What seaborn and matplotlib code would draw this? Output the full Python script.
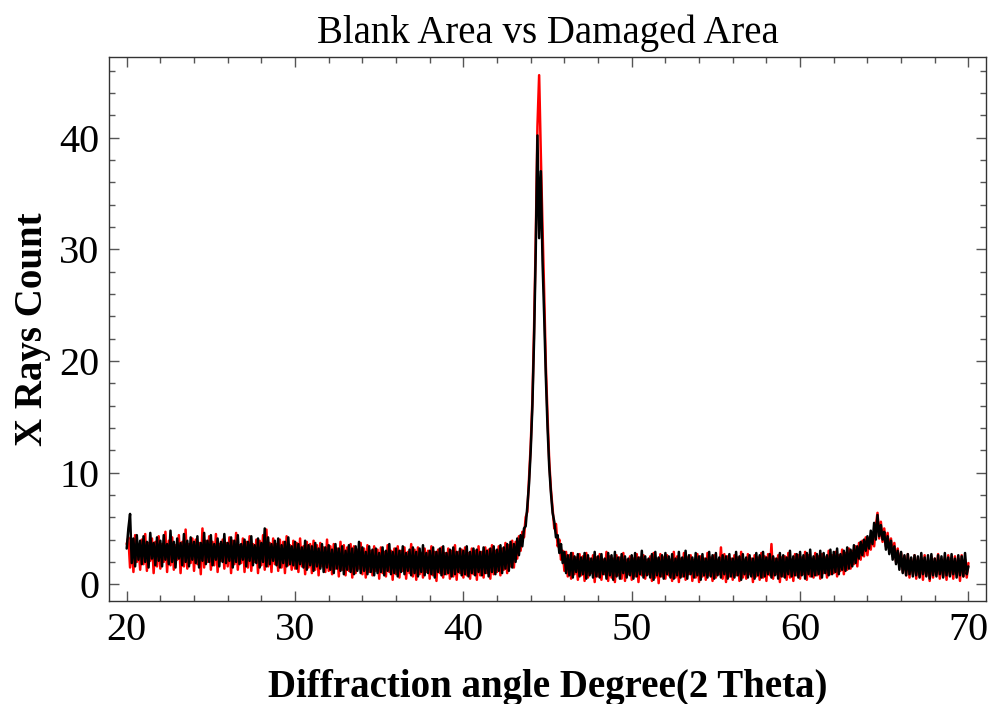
import numpy as np
import pandas as pd
import matplotlib.pyplot as plt
import seaborn as sns
from matplotlib.ticker import MultipleLocator

# --- DATA (2 theta from 20 to 70 deg, 0.1 deg steps, one row per degree) ---
angle = np.round(np.linspace(20, 70, 501), 1)

blank_counts = [
    3.6, 4.2, 1.5, 3.9, 1.1, 4.4, 2.0, 3.5, 1.3, 4.0,
    1.8, 4.5, 1.2, 3.7, 2.1, 4.1, 1.0, 3.8, 1.6, 4.3,
    1.4, 3.6, 2.0, 4.7, 1.1, 3.9, 1.7, 4.2, 1.3, 3.5,
    2.2, 4.4, 1.0, 3.8, 1.6, 4.9, 1.4, 3.6, 1.9, 4.1,
    1.2, 4.0, 1.8, 3.7, 0.9, 5.0, 1.5, 3.9, 2.0, 4.3,
    1.3, 3.8, 1.7, 4.5, 1.1, 3.6, 2.1, 4.0, 1.4, 3.7,
    1.6, 4.2, 1.0, 3.9, 1.8, 4.6, 1.3, 3.5, 1.9, 4.1,
    1.1, 3.8, 1.5, 4.3, 1.2, 3.6, 2.0, 4.0, 1.0, 3.9,
    1.7, 4.4, 1.3, 4.9, 1.6, 3.7, 1.1, 4.1, 1.8, 3.6,
    1.2, 4.0, 1.5, 3.8, 1.0, 4.3, 1.7, 3.5, 1.3, 3.9,
    1.4, 3.7, 1.1, 4.1, 1.6, 3.4, 0.9, 3.8, 1.5, 3.6,
    1.0, 3.9, 1.3, 3.5, 0.8, 3.7, 1.6, 3.3, 1.1, 4.0,
    1.2, 3.4, 0.9, 3.6, 1.4, 3.2, 0.7, 3.8, 1.3, 3.5,
    0.8, 3.3, 1.2, 3.6, 0.6, 3.4, 1.0, 3.1, 1.4, 3.7,
    0.9, 3.2, 0.6, 3.5, 1.1, 3.0, 0.8, 3.4, 1.2, 3.1,
    0.5, 3.3, 1.0, 2.9, 0.7, 3.5, 1.1, 3.0, 0.4, 3.2,
    0.9, 3.4, 0.6, 3.0, 1.2, 3.3, 0.5, 2.9, 1.0, 3.6,
    0.7, 3.1, 0.4, 3.3, 0.9, 2.8, 0.6, 3.2, 1.1, 3.0,
    0.5, 3.4, 0.8, 2.9, 0.3, 3.1, 1.0, 3.3, 0.6, 2.8,
    0.9, 3.2, 0.5, 3.0, 0.7, 3.5, 0.4, 2.9, 1.0, 3.1,
    0.6, 3.3, 0.8, 2.8, 0.5, 3.2, 0.9, 3.0, 0.4, 3.4,
    0.8, 2.9, 0.6, 3.3, 1.0, 3.1, 0.5, 3.5, 0.9, 3.0,
    1.1, 3.4, 0.8, 3.2, 1.3, 3.7, 1.0, 3.5, 1.6, 3.9,
    1.5, 3.8, 2.3, 4.3, 3.0, 4.7, 4.2, 6.0, 6.5, 9.5,
    12.5, 16.5, 23.0, 31.0, 41.0, 45.6, 38.5, 32.0, 26.0, 19.5,
    15.0, 11.0, 8.5, 6.8, 5.0, 5.4, 3.4, 4.0, 2.2, 3.0,
    1.2, 2.9, 0.7, 2.6, 0.5, 2.8, 0.9, 2.4, 0.4, 2.7,
    0.8, 2.5, 0.3, 2.8, 0.6, 2.3, 1.0, 2.6, 0.2, 2.4,
    0.7, 2.7, 0.4, 2.2, 0.9, 2.9, 0.3, 2.5, 0.6, 2.3,
    0.2, 2.6, 0.8, 2.4, 0.5, 2.8, 0.3, 2.2, 0.9, 2.5,
    0.4, 2.3, 0.7, 2.7, 0.2, 2.4, 0.8, 2.6, 0.5, 2.2,
    0.9, 2.5, 0.3, 2.8, 0.6, 2.3, 0.1, 2.7, 0.7, 2.4,
    0.5, 2.6, 0.8, 2.2, 0.3, 2.9, 0.6, 2.5, 0.2, 2.3,
    0.7, 2.8, 0.4, 2.4, 0.9, 2.6, 0.3, 2.2, 0.6, 2.7,
    0.2, 2.5, 0.7, 2.3, 0.4, 2.8, 0.8, 2.4, 0.3, 2.6,
    0.6, 2.2, 0.9, 3.3, 0.5, 2.7, 0.2, 2.5, 0.7, 2.3,
    0.4, 2.6, 0.8, 2.4, 0.3, 2.9, 0.6, 2.2, 0.5, 2.7,
    0.9, 2.3, 0.2, 2.6, 0.7, 2.4, 0.4, 2.8, 0.6, 2.5,
    0.3, 2.7, 0.8, 3.6, 0.5, 2.3, 0.9, 2.6, 0.2, 2.4,
    0.7, 2.5, 0.4, 2.8, 0.6, 2.2, 0.3, 2.7, 0.8, 2.6,
    0.5, 2.4, 0.9, 2.9, 0.4, 2.6, 0.7, 2.3, 0.6, 2.8,
    0.8, 2.5, 0.5, 2.7, 1.0, 2.4, 0.6, 3.0, 0.9, 2.6,
    1.0, 2.9, 0.7, 2.6, 1.2, 3.1, 0.9, 2.8, 1.3, 3.2,
    1.4, 3.0, 1.8, 3.4, 1.6, 3.7, 2.2, 3.9, 2.5, 4.2,
    2.6, 4.0, 3.1, 4.6, 3.4, 5.2, 6.4, 4.1, 5.6, 3.8,
    5.0, 3.4, 4.6, 3.0, 4.1, 2.5, 3.7, 2.0, 3.2, 1.6,
    2.8, 1.1, 2.5, 0.8, 2.7, 0.6, 2.3, 0.9, 2.6, 0.5,
    2.4, 0.7, 2.2, 0.4, 2.6, 0.8, 2.1, 0.3, 2.5, 0.6,
    2.3, 0.9, 2.7, 0.5, 2.2, 0.7, 2.4, 0.4, 2.6, 0.8,
    2.1, 0.5, 2.5, 0.9, 2.3, 0.3, 2.6, 0.7, 2.2, 0.6,
    1.9,
]

damaged_counts = [
    3.2, 5.0, 6.3, 1.9, 4.1, 1.6, 4.4, 2.2, 3.9, 1.8,
    4.3, 2.0, 3.8, 1.5, 4.6, 2.3, 3.7, 1.7, 4.2, 2.1,
    3.9, 1.6, 4.4, 2.2, 3.6, 1.8, 4.8, 2.0, 3.8, 1.5,
    4.1, 2.3, 3.7, 1.7, 4.5, 2.0, 3.9, 1.6, 4.2, 2.2,
    3.8, 1.9, 4.3, 1.5, 3.7, 2.1, 4.6, 1.8, 3.9, 2.0,
    4.4, 1.7, 3.6, 2.2, 4.1, 1.6, 3.8, 2.0, 4.5, 1.9,
    3.7, 2.1, 4.2, 1.5, 3.9, 2.0, 4.4, 1.8, 3.6, 2.2,
    4.0, 1.6, 3.8, 2.1, 4.3, 1.7, 3.5, 1.9, 4.1, 1.5,
    3.7, 2.0, 5.0, 1.6, 4.2, 1.8, 3.6, 2.1, 3.9, 1.7,
    4.1, 1.5, 3.5, 1.9, 3.8, 1.6, 4.2, 1.8, 3.4, 1.7,
    3.8, 1.4, 3.6, 1.8, 3.3, 1.5, 3.9, 1.3, 3.5, 1.7,
    3.4, 1.2, 3.7, 1.6, 3.2, 1.4, 3.6, 1.1, 3.3, 1.5,
    3.5, 1.3, 3.1, 1.0, 3.6, 1.4, 3.2, 1.2, 3.4, 0.9,
    3.0, 1.3, 3.5, 1.1, 3.2, 0.9, 3.4, 1.2, 3.8, 1.0,
    3.3, 1.2, 2.9, 0.9, 3.4, 1.1, 3.1, 0.8, 3.2, 1.0,
    2.8, 1.1, 3.3, 0.8, 3.0, 1.2, 3.6, 0.9, 2.9, 1.0,
    3.2, 0.7, 3.0, 1.1, 3.4, 0.9, 2.8, 1.2, 3.1, 0.8,
    3.3, 1.0, 2.9, 0.7, 3.2, 1.1, 3.5, 0.8, 2.8, 1.0,
    3.0, 0.9, 3.3, 0.6, 2.9, 1.1, 3.2, 0.8, 3.4, 0.9,
    2.8, 1.0, 3.1, 0.7, 3.3, 0.9, 2.9, 1.1, 3.2, 0.8,
    3.0, 0.9, 3.4, 0.7, 2.9, 1.0, 3.2, 0.8, 3.1, 1.1,
    2.9, 0.8, 3.3, 1.0, 3.0, 0.7, 3.2, 1.1, 3.4, 0.9,
    3.1, 1.2, 3.5, 1.0, 3.3, 1.4, 3.6, 1.2, 3.8, 1.5,
    3.6, 2.0, 4.1, 2.6, 4.4, 3.4, 5.0, 5.2, 7.0, 9.0,
    12.0, 16.0, 22.0, 30.0, 40.2, 31.0, 37.0, 29.0, 24.0, 18.5,
    14.0, 10.5, 8.2, 6.4, 5.6, 4.2, 4.4, 2.8, 3.6, 1.9,
    2.9, 1.0, 2.6, 0.8, 2.8, 0.6, 2.5, 1.1, 2.7, 0.7,
    2.4, 0.9, 2.8, 0.5, 2.6, 0.8, 2.3, 0.6, 2.9, 0.7,
    2.5, 0.6, 2.7, 0.9, 2.3, 0.5, 2.8, 0.8, 2.6, 0.4,
    2.9, 0.7, 2.4, 0.5, 2.7, 1.0, 2.5, 0.6, 2.3, 0.8,
    2.6, 0.5, 2.8, 0.7, 2.4, 0.9, 3.0, 0.6, 2.5, 0.8,
    2.3, 0.6, 2.7, 0.4, 2.9, 0.8, 2.4, 0.7, 2.6, 0.5,
    2.8, 0.9, 2.5, 0.6, 2.7, 0.5, 2.3, 0.8, 2.9, 0.6,
    2.4, 0.7, 3.0, 0.5, 2.6, 0.9, 2.4, 0.6, 2.8, 0.8,
    2.5, 0.4, 2.7, 0.8, 2.3, 0.6, 2.9, 0.7, 2.6, 0.5,
    2.8, 0.8, 2.4, 0.6, 2.6, 0.9, 2.5, 0.5, 2.7, 0.7,
    2.3, 0.6, 2.9, 0.8, 2.5, 0.4, 2.7, 0.9, 2.4, 0.6,
    2.6, 0.7, 2.3, 0.5, 2.8, 0.8, 2.6, 0.6, 2.9, 0.7,
    2.4, 0.9, 2.7, 0.6, 2.5, 0.8, 2.3, 0.5, 2.8, 0.7,
    2.6, 0.6, 2.4, 0.9, 3.0, 0.7, 2.5, 0.8, 2.7, 0.6,
    2.9, 0.8, 2.6, 0.5, 2.8, 0.9, 3.1, 0.7, 2.5, 0.8,
    2.7, 0.9, 3.0, 0.6, 2.8, 1.0, 2.6, 0.8, 3.1, 0.9,
    2.9, 1.1, 3.2, 0.9, 2.7, 1.3, 3.0, 1.2, 3.3, 1.4,
    3.1, 1.6, 3.5, 1.9, 3.4, 2.3, 3.8, 2.6, 4.0, 3.0,
    4.3, 3.2, 4.8, 3.6, 5.5, 4.0, 6.2, 4.3, 5.3, 4.0,
    4.7, 3.1, 4.3, 2.7, 3.9, 2.2, 3.4, 1.8, 3.0, 1.3,
    2.9, 1.0, 2.6, 0.8, 2.7, 0.9, 2.4, 0.7, 2.6, 0.8,
    2.5, 0.6, 2.8, 0.9, 2.4, 0.7, 2.6, 0.5, 2.7, 0.8,
    2.3, 0.7, 2.6, 0.9, 2.5, 0.6, 2.8, 0.8, 2.4, 0.7,
    2.7, 0.9, 2.3, 0.6, 2.6, 0.8, 2.5, 0.7, 2.8, 0.9,
    1.6,
]

areas = ['Blank Area', 'Damaged Area']
area_colors = {'Blank Area': '#ff0000', 'Damaged Area': '#000000'}

df = pd.concat([
    pd.DataFrame({'angle': angle, 'count': blank_counts, 'area': areas[0]}),
    pd.DataFrame({'angle': angle, 'count': damaged_counts, 'area': areas[1]}),
])

# --- STYLE ---
sns.set_style("ticks")
plt.rcParams['font.family'] = ['Liberation Serif', 'DejaVu Serif']
plt.rcParams['text.color'] = 'black'
plt.rcParams['axes.labelcolor'] = 'black'
plt.rcParams['xtick.labelcolor'] = 'black'
plt.rcParams['ytick.labelcolor'] = 'black'

fig = plt.figure(figsize=(9.92, 7.04), dpi=100)
ax = fig.add_axes([0.1099, 0.1463, 0.8838, 0.7723])

sns.lineplot(data=df, x='angle', y='count', hue='area', hue_order=areas,
             palette=area_colors, linewidth=1.8, legend=False, ax=ax,
             estimator=None, sort=False)

ax.set_xlim(18.95, 71.03)
ax.set_ylim(-1.5, 47.2)
ax.xaxis.set_major_locator(MultipleLocator(10))
ax.xaxis.set_minor_locator(MultipleLocator(2))
ax.yaxis.set_major_locator(MultipleLocator(10))
ax.yaxis.set_minor_locator(MultipleLocator(2))

ax.tick_params(which='both', direction='in', top=True, right=True,
               color='#555555', width=1.0)
ax.tick_params(which='major', length=7, labelsize=29)
ax.tick_params(which='minor', length=4)
ax.tick_params(axis='x', which='major', pad=8)
ax.tick_params(axis='y', which='major', pad=7)

for s in ax.spines.values():
    s.set_color('#333333')
    s.set_linewidth(1.0)

ax.set_title('Blank Area vs Damaged Area', fontsize=28, pad=10, color='black')
ax.set_xlabel('Diffraction angle Degree(2 Theta)', fontsize=28,
              fontweight='bold', labelpad=14)
ax.set_ylabel('X Rays Count', fontsize=28, fontweight='bold', labelpad=6)

plt.savefig('out.png', dpi=100)
plt.close()
